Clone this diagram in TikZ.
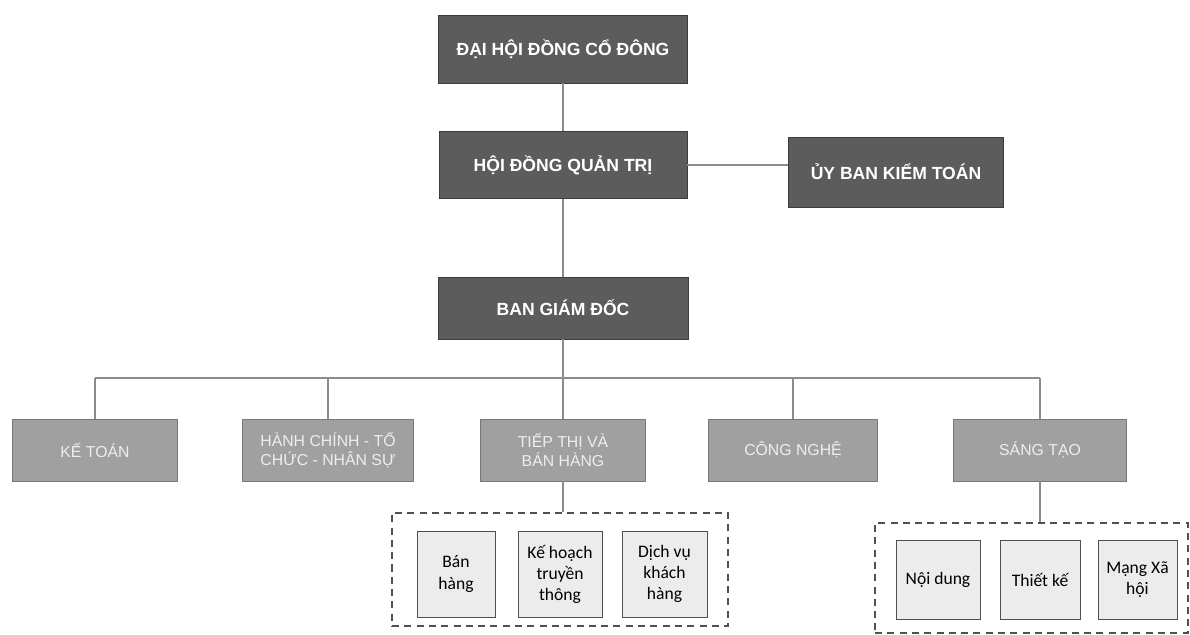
\documentclass[tikz,border=0pt]{standalone}
\usepackage{fontspec}
\setmainfont{Liberation Sans}
\newfontfamily\calibrifont{Carlito}
\definecolor{boarddark}{RGB}{92,92,92}
\definecolor{boardedge}{RGB}{60,60,60}
\definecolor{deptgray}{RGB}{160,160,160}
\definecolor{deptedge}{RGB}{120,120,120}
\definecolor{depttext}{RGB}{238,238,238}
\definecolor{unitfill}{RGB}{236,236,236}
\definecolor{unitedge}{RGB}{80,80,80}
\definecolor{linkgray}{RGB}{140,140,140}

\begin{document}
\begin{tikzpicture}[x=0.02cm,y=-0.02cm,
  topbox/.style={draw=boardedge,fill=boarddark,text=white,inner sep=0pt,
    font=\bfseries\fontsize{10}{12}\selectfont},
  deptbox/.style={draw=deptedge,fill=deptgray,text=depttext,inner sep=0pt,align=center,
    minimum height=1.24cm,font=\fontsize{9}{10.5}\selectfont},
  groupbox/.style={draw=unitedge,line width=1pt,dash pattern=on 4pt off 3pt,inner sep=0pt},
  unitbox/.style={draw=unitedge,fill=unitfill,inner sep=0pt,align=center,
    font=\calibrifont\fontsize{10}{12}\selectfont},
  link/.style={draw=linkgray,line width=0.7pt}]
  \useasboundingbox (0,0) rectangle (1190,635);
  % board level
  \node[topbox,minimum width=4.98cm,minimum height=1.36cm] (dhdcd) at (563,49) {ĐẠI HỘI ĐỒNG CỔ ĐÔNG};
  \node[topbox,minimum width=4.96cm,minimum height=1.34cm] (hdqt) at (563,165) {HỘI ĐỒNG QUẢN TRỊ};
  \node[topbox,minimum width=4.30cm,minimum height=1.40cm] (ubkt) at (896,172) {ỦY BAN KIỂM TOÁN};
  \node[topbox,minimum width=5.00cm,minimum height=1.24cm] (bgd) at (563,308) {BAN GIÁM ĐỐC};
  \draw[link] (dhdcd) -- (hdqt);
  \draw[link] (hdqt.east) -- (hdqt.east -| ubkt.west);
  \draw[link] (hdqt) -- (bgd);
  % departments
  \foreach \n/\x/\w/\t in {ketoan/95/3.30/{KẾ TOÁN},hcns/328/3.42/{HÀNH CHÍNH - TỔ\\CHỨC - NHÂN SỰ},
      tiepthi/563/3.30/{TIẾP THỊ VÀ\\BÁN HÀNG},congnghe/793/3.38/{CÔNG NGHỆ},sangtao/1040/3.46/{SÁNG TẠO}}
    \node[deptbox,minimum width=\w cm] (\n) at (\x,450) {\t};
  \coordinate (bus) at (563,378);
  \draw[link] (bgd) -- (bus);
  \draw[link] (ketoan.north |- bus) -- (sangtao.north |- bus);
  \foreach \n in {ketoan,hcns,tiepthi,congnghe,sangtao}
    \draw[link] (\n.north) -- (\n.north |- bus);
  % units
  \node[groupbox,minimum width=6.72cm,minimum height=2.26cm] (grpsales) at (560,569.5) {};
  \node[groupbox,minimum width=6.26cm,minimum height=2.20cm] (grpcreative) at (1031.5,578) {};
  \draw[link] (tiepthi.south) -- (tiepthi.south |- grpsales.north);
  \draw[link] (sangtao.south) -- (sangtao.south |- grpcreative.north);
  \foreach \n/\x/\w/\t in {banhang/456/1.56/{Bán\\hàng},truyenthong/560/1.68/{Kế hoạch\\truyền\\thông},
      khachhang/664.5/1.70/{Dịch vụ\\khách\\hàng}}
    \node[unitbox,minimum width=\w cm,minimum height=1.72cm] (\n) at (\x,574) {\t};
  \foreach \n/\x/\w/\t in {noidung/938/1.68/{Nội dung},thietke/1040/1.60/{Thiết kế},
      mangxahoi/1137.5/1.58/{Mạng Xã\\hội}}
    \node[unitbox,minimum width=\w cm,minimum height=1.58cm] (\n) at (\x,579.5) {\t};
\end{tikzpicture}
\end{document}
